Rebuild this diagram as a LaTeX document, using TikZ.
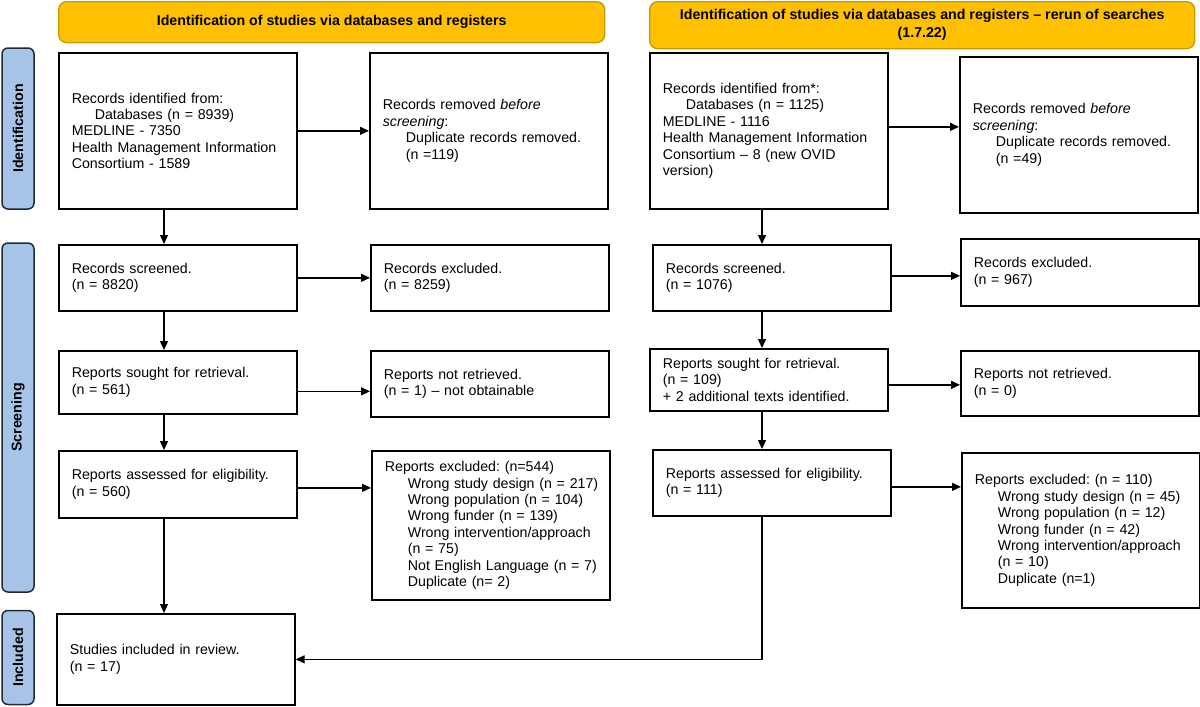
\documentclass[tikz,border=0pt]{standalone}
\usepackage{fontspec}
\setmainfont{Liberation Sans}
\usetikzlibrary{arrows.meta}
\definecolor{hdrfill}{HTML}{FFC000}
\definecolor{hdrdraw}{HTML}{C49A00}
\definecolor{sidefill}{HTML}{A6C4E8}
\definecolor{sidedraw}{HTML}{1F2A38}
\newcommand{\ind}{\hspace*{23pt}}
\newcommand{\oneline}[1]{\mbox{#1}}
\frenchspacing
\begin{document}
\begin{tikzpicture}[x=1pt,y=-1pt,
 box/.style={draw=black, line width=1.7pt, fill=white, anchor=north west,
   minimum width=238pt, text width=212pt, inner xsep=13pt, inner ysep=2pt,
   align=left, font=\frenchspacing\fontsize{14.2}{16.4}\selectfont},
 hdr/.style={draw=hdrdraw, line width=1.3pt, fill=hdrfill, rounded corners=8pt,
   align=center, font=\bfseries\fontsize{14.2}{18}\selectfont, anchor=north west, inner sep=0pt},
 side/.style={draw=sidedraw, line width=1.5pt, fill=sidefill, rounded corners=6pt,
   rotate=90, font=\bfseries\fontsize{14.2}{16}\selectfont, inner sep=0pt, minimum height=32pt},
 arr/.style={line width=1.3pt, -{Triangle[length=9pt,width=8pt]}}]
\useasboundingbox (0,0) rectangle (1200,707);

% headers
\node[hdr, minimum width=546pt, minimum height=41pt] (HL) at (58,1)
  {Identification of studies via databases and registers};
\node[hdr, minimum width=545pt, minimum height=47pt] (HR) at (649,1)
  {Identification of studies via databases and registers -- rerun of searches\\(1.7.22)};

% side labels
\node[side, minimum width=161pt] (S1) at (18,128.5) {Identification};
\node[side, minimum width=349pt] (S2) at (18,417.5) {Screening};
\node[side, minimum width=94pt] (S3) at (18,657.5) {Included};

% left column
\node[box, minimum height=156pt] (A1) at (58,52)
  {Records identified from:\\\ind Databases (n = 8939)\\MEDLINE - 7350\\Health Management Information\\Consortium - 1589};
\node[box, minimum height=156pt] (A2) at (369,52)
  {Records removed \textit{before}\\\textit{screening}:\\\ind Duplicate records removed.\\\ind (n =119)};
\node[box, minimum height=66pt] (B1) at (58,244) {Records screened.\\(n = 8820)};
\node[box, minimum height=66pt] (B2) at (370,244) {Records excluded.\\(n = 8259)};
\node[box, minimum height=63pt] (C1) at (58,350) {Reports sought for retrieval.\\(n = 561)};
\node[box, minimum height=66pt] (C2) at (370,350) {Reports not retrieved.\\(n = 1) -- not obtainable};
\node[box, minimum height=67pt] (D1) at (58,450) {Reports assessed for eligibility.\\(n = 560)};
\node[box, minimum height=149pt] (D2) at (371,450)
  {Reports excluded: (n=544)\\\ind\oneline{Wrong study design (n = 217)}\\\ind\oneline{Wrong population (n = 104)}\\\ind Wrong funder (n = 139)\\\ind\oneline{Wrong intervention/approach}\\\ind (n = 75)\\\ind\oneline{Not English Language (n = 7)}\\\ind Duplicate (n= 2)};
\node[box, minimum height=91pt] (E1) at (56,613) {Studies included in review.\\(n = 17)};

% right column
\node[box, minimum height=156pt] (F1) at (649,52)
  {Records identified from*:\\\ind Databases (n = 1125)\\MEDLINE - 1116\\Health Management Information\\Consortium -- 8 (new OVID\\version)};
\node[box, minimum height=156pt] (F2) at (959,56)
  {Records removed \textit{before}\\\textit{screening}:\\\ind Duplicate records removed.\\\ind (n =49)};
\node[box, minimum height=66pt] (G1) at (652,244) {Records screened.\\(n = 1076)};
\node[box, minimum height=67pt] (G2) at (960,238) {Records excluded.\\(n = 967)};
\node[box, minimum height=62pt] (H1) at (649,348) {Reports sought for retrieval.\\(n = 109)\\+ 2 additional texts identified.};
\node[box, minimum height=65pt] (H2) at (960,350) {Reports not retrieved.\\(n = 0)};
\node[box, minimum height=66pt] (I1) at (652,449) {Reports assessed for eligibility.\\(n = 111)};
\node[box, minimum height=155pt] (I2) at (961,452)
  {Reports excluded: (n = 110)\\\ind\oneline{Wrong study design (n = 45)}\\\ind Wrong population (n = 12)\\\ind Wrong funder (n = 42)\\\ind\oneline{Wrong intervention/approach}\\\ind (n = 10)\\\ind Duplicate (n=1)};

\coordinate (lx) at (164,0);
\coordinate (rx) at (762,0);

% left arrows
\draw[arr] (A1.south -| lx) -- (B1.north -| lx);
\draw[arr] (B1.south -| lx) -- (C1.north -| lx);
\draw[arr] (C1.south -| lx) -- (D1.north -| lx);
\draw[arr] (D1.south -| lx) -- (E1.north -| lx);
\draw[arr] (A1.east) -- (A1.east -| A2.west);
\draw[arr] (B1.east) -- (B1.east -| B2.west);
\draw[arr] ([yshift=-9pt]C1.east) -- ([yshift=-9pt]C1.east -| C2.west);
\draw[arr] ([yshift=-3.5pt]D1.east) -- ([yshift=-3.5pt]D1.east -| D2.west);

% right arrows
\draw[arr] (F1.south -| rx) -- (G1.north -| rx);
\draw[arr] (G1.south -| rx) -- (H1.north -| rx);
\draw[arr] (H1.south -| rx) -- (I1.north -| rx);
\draw[arr] ([yshift=4pt]F1.east) -- ([yshift=4pt]F1.east -| F2.west);
\draw[arr] ([yshift=2pt]G1.east) -- ([yshift=2pt]G1.east -| G2.west);
\draw[arr] ([yshift=-5pt]H1.east) -- ([yshift=-5pt]H1.east -| H2.west);
\draw[arr] ([yshift=-4pt]I1.east) -- ([yshift=-4pt]I1.east -| I2.west);
\draw[arr] (I1.south -| rx) |- (E1.east);
\end{tikzpicture}
\end{document}
